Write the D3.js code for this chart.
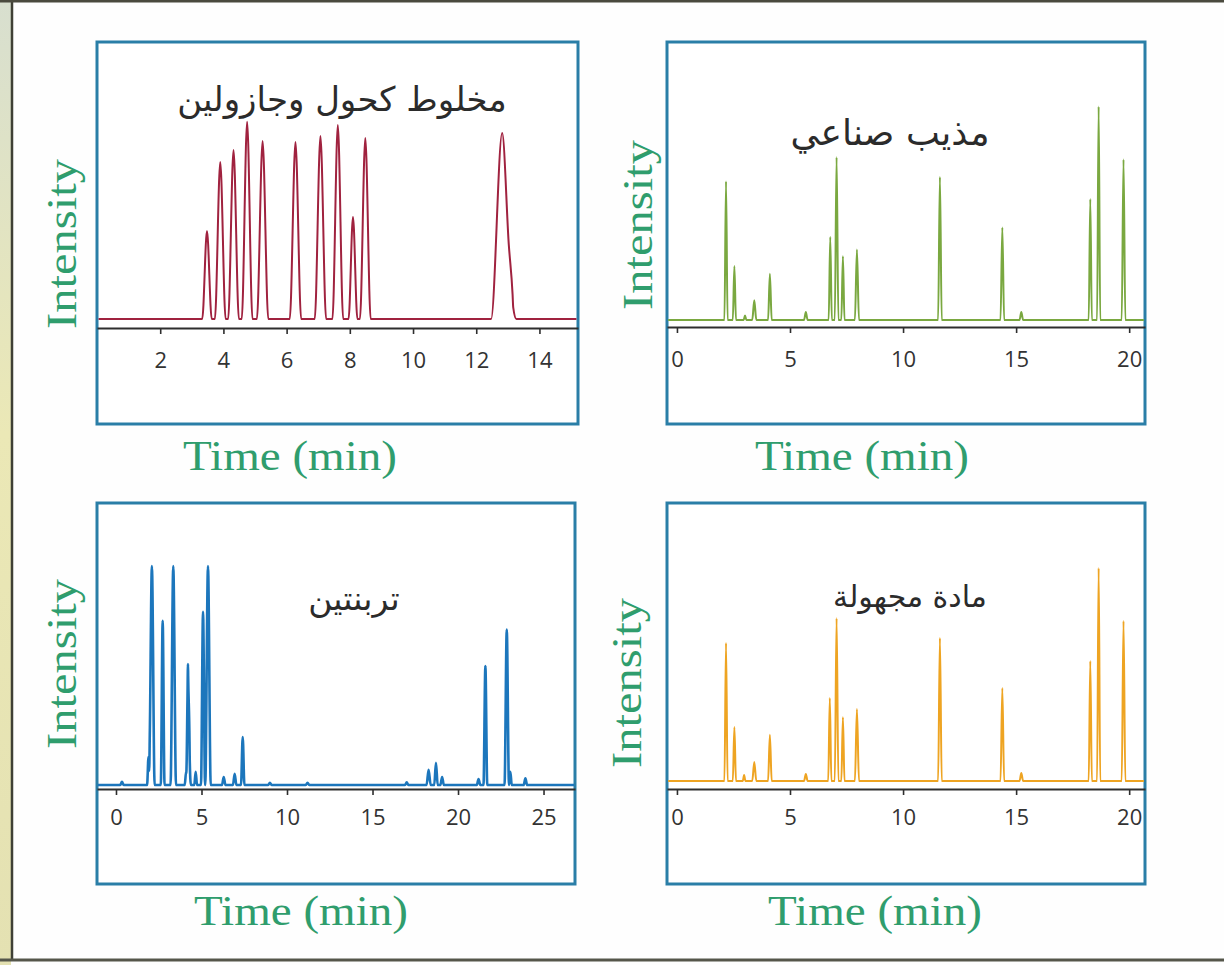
<!DOCTYPE html>
<html>
<head>
<meta charset="utf-8">
<script src="https://cdn.jsdelivr.net/npm/d3@7"></script>
<style>
  body { margin: 0; background: #fff; }
  svg { display: block; }
</style>
</head>
<body>
<div id="chart"></div>
<script>
// peaks: retention time (min), relative height (0-100), half base width (min)
const mixTimes   = [3.48, 3.90, 4.32, 4.75, 5.24, 6.28, 7.07, 7.62, 8.10, 8.49, 12.82, 13.15];
const mixHeights = [44, 78.5, 84.5, 98.6, 89, 88.5, 91.5, 97, 51, 90.5, 93, 7];
const mixWidths  = [0.15, 0.17, 0.17, 0.17, 0.18, 0.18, 0.18, 0.17, 0.14, 0.17, 0.35, 0.12];

const solventTimes   = [2.17, 2.54, 3.01, 3.42, 4.11, 5.70, 6.78, 7.06, 7.34, 7.96, 11.63, 14.39, 15.23, 18.28, 18.65, 19.75];
const solventHeights = [63, 24.5, 2, 9, 21, 3.6, 37.7, 74, 29, 32, 65, 42, 3.6, 55, 97, 73];
const solventWidths  = [0.07, 0.07, 0.06, 0.09, 0.08, 0.08, 0.07, 0.08, 0.07, 0.09, 0.08, 0.08, 0.08, 0.07, 0.07, 0.08];

const turpTimes   = [0.35, 1.9, 2.1, 2.73, 3.35, 4.1, 4.21, 4.3, 4.66, 5.09, 5.38, 6.3, 6.94, 7.41, 9.0, 11.2, 17.0, 18.28, 18.71, 19.07, 21.2, 21.6, 22.85, 23.06, 23.94];
const turpHeights = [1.4, 12.6, 98.6, 74, 98.6, 6, 54.5, 14, 6, 78, 98.6, 3.6, 5, 21.6, 1, 1, 1.2, 6.8, 10, 3.6, 2.7, 53.6, 70, 6, 3];
const turpWidths  = [0.1, 0.08, 0.16, 0.11, 0.16, 0.08, 0.1, 0.08, 0.08, 0.12, 0.16, 0.1, 0.1, 0.1, 0.1, 0.1, 0.1, 0.12, 0.1, 0.1, 0.1, 0.11, 0.13, 0.08, 0.1];

const unknownTimes   = [2.17, 2.54, 2.97, 3.42, 4.11, 5.70, 6.76, 7.06, 7.34, 7.96, 11.63, 14.39, 15.23, 18.28, 18.65, 19.75];
const unknownHeights = [62.7, 24.5, 2.7, 8.6, 21, 3.2, 37.7, 74, 29, 32.7, 65, 42.3, 3.6, 54.5, 96.8, 72.7];
const unknownWidths  = [0.07, 0.07, 0.06, 0.09, 0.08, 0.08, 0.07, 0.08, 0.07, 0.09, 0.08, 0.08, 0.08, 0.07, 0.07, 0.08];

const mixTicks = [2, 4, 6, 8, 10, 12, 14];
const solventTicks = [0, 5, 10, 15, 20];
const turpTicks = [0, 5, 10, 15, 20, 25];

const titles = ['مخلوط كحول وجازولين', 'مذيب صناعي', 'تربنتين', 'مادة مجهولة'];
const xLabel = 'Time (min)';
const yLabel = 'Intensity';

const width = 1224;
const height = 965;

const panels = [
  {times: mixTimes, heights: mixHeights, widths: mixWidths, ticks: mixTicks, title: titles[0], titleSize: 34,
   color: '#a0223f', lw: 2, box: [97, 42, 578, 424], domain: [0, 15.22], axisY: 328, baseY: 319, h: 200,
   tickY: 40, titleXY: [342, 111], ylab: [64, 244], xlab: [290, 470]},
  {times: solventTimes, heights: solventHeights, widths: solventWidths, ticks: solventTicks, title: titles[1], titleSize: 36,
   color: '#7aa840', lw: 2, box: [667, 42, 1145, 424], domain: [-0.44, 20.7], axisY: 327, baseY: 320, h: 220,
   tickY: 40, titleXY: [890, 145], ylab: [640, 225], xlab: [862, 470]},
  {times: turpTimes, heights: turpHeights, widths: turpWidths, ticks: turpTicks, title: titles[2], titleSize: 33,
   color: '#1c76bc', lw: 2.6, box: [97, 503, 575, 884], domain: [-1.11, 26.84], axisY: 789, baseY: 785, h: 222,
   tickY: 36, titleXY: [354, 610], ylab: [64, 664], xlab: [301, 925]},
  {times: unknownTimes, heights: unknownHeights, widths: unknownWidths, ticks: solventTicks, title: titles[3], titleSize: 30,
   color: '#eea422', lw: 2, box: [667, 503, 1145, 884], domain: [-0.44, 20.7], axisY: 789, baseY: 781, h: 220,
   tickY: 36, titleXY: [910, 607], ylab: [629, 683], xlab: [875, 925]}
];

const svg = d3.select('#chart').append('svg')
  .attr('width', width).attr('height', height);

const defs = svg.append('defs');
const grad = defs.append('linearGradient').attr('id', 'strip')
  .attr('x1', 0).attr('y1', 0).attr('x2', 0).attr('y2', 1);
grad.append('stop').attr('offset', '0%').attr('stop-color', '#d8dfcf');
grad.append('stop').attr('offset', '45%').attr('stop-color', '#ebe8b6');
grad.append('stop').attr('offset', '100%').attr('stop-color', '#e4e1b2');

// page frame
svg.append('rect').attr('width', width).attr('height', height).attr('fill', '#fefefe');
svg.append('rect').attr('x', 0).attr('y', 0).attr('width', 11).attr('height', height).attr('fill', 'url(#strip)');
svg.append('line').attr('x1', 12).attr('x2', 12).attr('y1', 0).attr('y2', 961)
  .attr('stroke', '#3f4035').attr('stroke-width', 2.5);
svg.append('line').attr('x1', 0).attr('x2', width).attr('y1', 1).attr('y2', 1)
  .attr('stroke', '#4a4a3e').attr('stroke-width', 3);
svg.append('line').attr('x1', 0).attr('x2', width).attr('y1', 960).attr('y2', 960)
  .attr('stroke', '#55564a').attr('stroke-width', 3);

// sum of triangular peaks, evaluated only at the peak vertices
function trace(p) {
  const xs = new Set([p.domain[0] + 0.05, p.domain[1] - 0.05]);
  p.times.forEach((t, i) => {
    xs.add(t - p.widths[i]); xs.add(t); xs.add(t + p.widths[i]);
  });
  return Array.from(xs).sort(d3.ascending).map(x => [x, d3.sum(p.times, (t, i) =>
    Math.max(0, p.heights[i] * (1 - Math.abs(x - t) / p.widths[i])))]);
}

panels.forEach(p => {
  const [bx0, by0, bx1, by1] = p.box;
  const g = svg.append('g');
  const x = d3.scaleLinear().domain(p.domain).range([bx0, bx1]);
  const y = d3.scaleLinear().domain([0, 100]).range([p.baseY, p.baseY - p.h]);

  g.append('rect')
    .attr('x', bx0).attr('y', by0).attr('width', bx1 - bx0).attr('height', by1 - by0)
    .attr('fill', '#fff').attr('stroke', '#2a7ea7').attr('stroke-width', 3);

  const line = d3.line().x(d => x(d[0])).y(d => y(d[1])).curve(d3.curveMonotoneX);
  g.append('path')
    .datum(trace(p))
    .attr('fill', 'none').attr('stroke', p.color).attr('stroke-width', p.lw)
    .attr('stroke-linejoin', 'round')
    .attr('d', line);

  const axis = g.append('g')
    .attr('transform', `translate(0,${p.axisY})`)
    .call(d3.axisBottom(x).tickValues(p.ticks).tickSize(6).tickSizeOuter(0));
  axis.select('.domain').attr('stroke', '#2e2e2e').attr('stroke-width', 2.2);
  axis.selectAll('.tick line').attr('stroke', '#2e2e2e').attr('stroke-width', 1.6);
  axis.selectAll('.tick text')
    .attr('y', p.tickY).attr('dy', null)
    .attr('font-family', '"Open Sans", "Noto Sans", sans-serif')
    .attr('font-size', 22).attr('fill', '#333');

  g.append('text')
    .attr('x', p.titleXY[0]).attr('y', p.titleXY[1])
    .attr('text-anchor', 'middle')
    .attr('font-family', '"DejaVu Sans", sans-serif')
    .attr('font-size', p.titleSize).attr('fill', '#2b2b2b')
    .text(p.title);

  g.append('text')
    .attr('transform', `translate(${p.ylab[0] + 12},${p.ylab[1]}) rotate(-90)`)
    .attr('text-anchor', 'middle')
    .attr('font-family', '"Liberation Serif", "DejaVu Serif", serif')
    .attr('font-size', 42).attr('fill', '#2f9d6d')
    .attr('textLength', 170).attr('lengthAdjust', 'spacingAndGlyphs')
    .text(yLabel);

  g.append('text')
    .attr('x', p.xlab[0]).attr('y', p.xlab[1])
    .attr('text-anchor', 'middle')
    .attr('font-family', '"Liberation Serif", "DejaVu Serif", serif')
    .attr('font-size', 42).attr('fill', '#2f9d6d')
    .attr('textLength', 214).attr('lengthAdjust', 'spacingAndGlyphs')
    .text(xLabel);
});
</script>
</body>
</html>
